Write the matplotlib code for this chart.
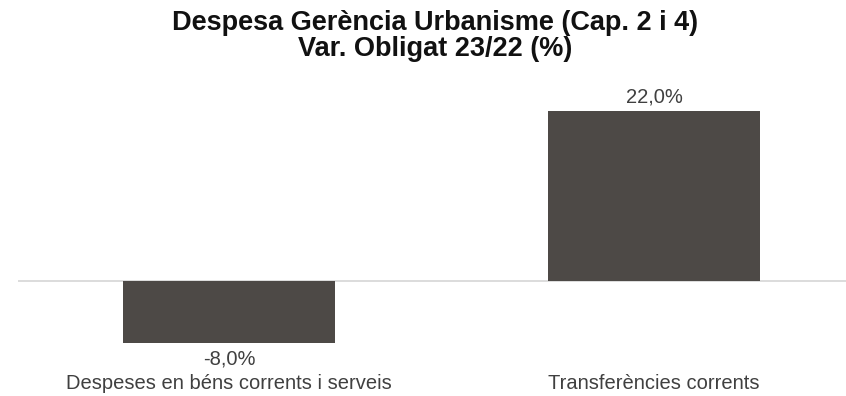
import matplotlib
matplotlib.use("Agg")
import matplotlib.pyplot as plt

categories = ["Despeses en béns corrents i serveis", "Transferències corrents"]
values = [-8.0, 22.0]
value_labels = ["-8,0%", "22,0%"]

plt.rcParams['font.family'] = ['Liberation Sans', 'DejaVu Sans']

W, H = 846, 396
fig = plt.figure(figsize=(W / 100, H / 100), dpi=100)

# axes placed in pixel terms
left, right, top, bottom = 18, 846, 90, 350
ax = fig.add_axes([left / W, 1 - bottom / H, (right - left) / W, (bottom - top) / H])

bar_color = "#4d4946"
x = list(range(len(categories)))
ax.bar(x, values, width=0.5, color=bar_color, zorder=2)

ppu = 7.74
ax.set_ylim(-(bottom - 281) / ppu, 22 + (111 - top) / ppu)
ax.set_xlim(-(229 - left) / 425, (right - 229) / 425)

ax.axhline(0, color="#d9d9d9", lw=1.3, zorder=1)

for xi, v, lab in zip(x, values, value_labels):
    if v >= 0:
        ax.text(xi, v + 0.6, lab, ha="center", va="bottom", fontsize=14.5, color="#404040")
    else:
        ax.text(xi, v - 0.9, lab, ha="center", va="top", fontsize=14.5, color="#404040")

for s in ax.spines.values():
    s.set_visible(False)
ax.set_yticks([])
ax.set_xticks(x)
ax.set_xticklabels(categories, fontsize=14.5, color="#404040")
ax.tick_params(axis="x", length=0, pad=17)

fig.text(435 / W, 1 - 36 / H, "Despesa Gerència Urbanisme (Cap. 2 i 4)\nVar. Obligat 23/22 (%)",
         ha="center", va="center", fontsize=19.5, fontweight="bold", color="#111111",
         linespacing=1.0)

fig.savefig("out.png", dpi=100, facecolor="white")
